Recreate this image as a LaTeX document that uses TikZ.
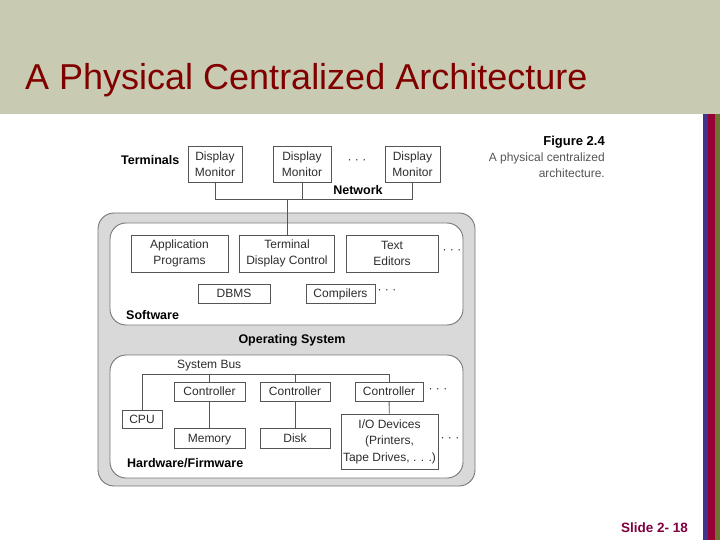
\documentclass[tikz,border=0pt]{standalone}
\usepackage{fontspec}
\setmainfont{Liberation Sans}
\usetikzlibrary{positioning}
\definecolor{band}{RGB}{200,203,178}
\definecolor{titlered}{RGB}{128,0,0}
\definecolor{slidered}{RGB}{128,0,64}
\definecolor{boxline}{RGB}{85,85,85}
\definecolor{boxtext}{RGB}{45,45,45}
\definecolor{osfill}{RGB}{217,217,217}
\definecolor{stripeA}{RGB}{64,52,140}
\definecolor{stripeB}{RGB}{150,0,52}
\definecolor{stripeC}{RGB}{110,115,50}

\begin{document}
\begin{tikzpicture}[x=1pt, y=-1pt, font=\fontsize{12}{16}\selectfont]
	\tikzstyle{unit}=[draw=boxline, line width=0.8pt, fill=white, text=boxtext, align=center, inner sep=0pt]
	\tikzstyle{cell}=[draw=boxline, line width=0.8pt, fill=white, text=boxtext, inner sep=0pt, text height=8.6pt, text depth=0pt]
	\tikzstyle{layer}=[draw=boxline!80, line width=0.9pt, rounded corners=16pt, inner sep=0pt]
	\tikzstyle{tag}=[font=\fontsize{12.5}{15}\selectfont\bfseries, inner sep=0pt, anchor=base west]
	\tikzstyle{dots}=[inner sep=0pt, text=boxtext]
	\tikzstyle{wire}=[draw=boxline, line width=0.8pt]
	\useasboundingbox (0,0) rectangle (720,540);
	% slide frame
	\fill[white] (0,0) rectangle (720,540);
	\fill[band] (0,0) rectangle (720,114);
	\fill[stripeA] (703,114) rectangle (708,540);
	\fill[stripeB] (708,114) rectangle (715,540);
	\fill[stripeC] (715,114) rectangle (720,540);
	\node[anchor=base west, inner sep=0pt, text=titlered, font=\fontsize{36}{40}\selectfont] (title) at (25,90) {A Physical Centralized Architecture};
	\node[anchor=base east, inner sep=0pt, text=slidered, font=\fontsize{13.5}{16}\selectfont\bfseries] (slide) at (688,532) {Slide 2- 18};
	% caption
	\node[anchor=base east, inner sep=0pt, font=\fontsize{13}{16}\selectfont\bfseries] (fig) at (605,145.5) {Figure 2.4};
	\node[anchor=base east, inner sep=0pt, text=boxline] (capA) at (605,161.5) {A physical centralized};
	\node[anchor=base east, inner sep=0pt, text=boxline] (capB) at (605,177.5) {architecture.};
	% layers
	\node[layer, fill=osfill, minimum width=377pt, minimum height=273pt] (OS) at (286.5,349.5) {};
	\node[layer, fill=white, minimum width=353pt, minimum height=102pt] (SW) at (286.5,274) {};
	\node[layer, fill=white, minimum width=353pt, minimum height=123pt] (HW) at (286.5,416.5) {};
	% terminals
	\node[tag] (term) at (121,164.5) {Terminals};
	\node[unit, minimum width=54pt, minimum height=36pt] (D1) at (215,164) {Display\\Monitor};
	\node[unit, minimum width=58pt, minimum height=36pt] (D2) at (302,164) {Display\\Monitor};
	\node[unit, minimum width=55pt, minimum height=36pt] (D3) at (412.5,164) {Display\\Monitor};
	\node[dots] (t1) at (357,162) {· · ·};
	\node[tag, anchor=base] (net) at (358,194.5) {Network};
	\coordinate (N) at (0,199);
	% software
	\node[unit, minimum width=97pt, minimum height=37pt] (AP) at (179.5,253.5) {Application\\Programs};
	\node[unit, minimum width=95pt, minimum height=37pt] (TD) at (287,253.5) {Terminal\\Display Control};
	\node[unit, minimum width=92pt, minimum height=37pt] (TE) at (392,253.5) {Text\\Editors};
	\node[dots] (t2) at (452,252) {· · ·};
	\node[cell, minimum width=72pt, minimum height=19pt] (DB) at (234,293.5) {DBMS};
	\node[cell, minimum width=69pt, minimum height=19pt] (CO) at (340.5,293.5) {Compilers};
	\node[dots] (t3) at (387,292) {· · ·};
	\node[tag] (sw) at (126,319.5) {Software};
	\node[tag, anchor=base] (os) at (292,343.5) {Operating System};
	% hardware
	\node[inner sep=0pt, anchor=base west, text=boxtext] (bus) at (177,368.5) {System Bus};
	\coordinate (B) at (0,374);
	\node[cell, minimum width=71pt, minimum height=19pt] (C1) at (209.5,391.5) {Controller};
	\node[cell, minimum width=70pt, minimum height=19pt] (C2) at (295,391.5) {Controller};
	\node[cell, minimum width=68pt, minimum height=19pt] (C3) at (389,391.5) {Controller};
	\node[dots] (t4) at (438,391) {· · ·};
	\node[cell, minimum width=40pt, minimum height=18pt] (CPU) at (142,419) {CPU};
	\node[cell, minimum width=71pt, minimum height=20pt] (M) at (209.5,438) {Memory};
	\node[cell, minimum width=70pt, minimum height=20pt] (K) at (295,438) {Disk};
	\node[unit, minimum width=97pt, minimum height=55pt, font=\fontsize{12}{16.5}\selectfont] (IO) at (389.5,441.5) {I/O Devices\\(Printers,\\Tape Drives, . . .)};
	\node[dots] (t5) at (450,440) {· · ·};
	\node[tag] (hw) at (127,467.5) {Hardware/Firmware};
	% connectors
	\draw[wire] (D1.south) -- (D1.south |- N) -- (D3.south |- N) -- (D3.south);
	\draw[wire] (D2.south) -- (D2.south |- N);
	\draw[wire] (TD.north) -- (TD.north |- N);
	\draw[wire] (CPU.north) -- (CPU.north |- B) -- (C3.north |- B) -- (C3.north);
	\draw[wire] (C1.north) -- (C1.north |- B);
	\draw[wire] (C2.north) -- (C2.north |- B);
	\draw[wire] (C1) -- (M);
	\draw[wire] (C2) -- (K);
	\draw[wire] (C3) -- (IO);
\end{tikzpicture}
\end{document}
